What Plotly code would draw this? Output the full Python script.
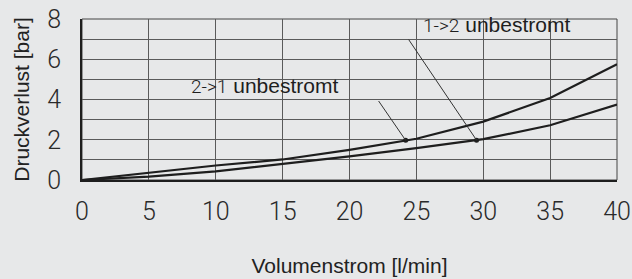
import plotly.graph_objects as go

# Data
flow = [0, 5, 10, 15, 20, 25, 30, 35, 40]                      # Volumenstrom [l/min]
loss_2_1 = [0, 0.36, 0.72, 1.02, 1.5, 2.05, 2.9, 4.07, 5.75]     # upper curve
loss_1_2 = [0, 0.17, 0.43, 0.8, 1.17, 1.58, 2.03, 2.72, 3.75]    # lower curve

x_ticks = [0, 5, 10, 15, 20, 25, 30, 35, 40]
y_ticks = [0, 2, 4, 6, 8]

# label marker points on the curves (x, y) and leader-line tail (x, y)
mark_2_1 = (24.2, 1.97)
tail_2_1 = (22.1, 4.0)
mark_1_2 = (29.5, 1.98)
tail_1_2 = (24.35, 7.05)

BG = "#e7e8e9"
INK = "#1e1e1e"
GRID = "#5a5a5a"
TICKFONT = dict(family="Roboto", size=25, color="#2a2a2a", weight=300)
THIN = "font-family:Roboto;font-weight:300;"

fig = go.Figure()
fig.add_trace(go.Scatter(x=flow, y=loss_2_1, mode="lines",
                         line=dict(color=INK, width=2.2), showlegend=False))
fig.add_trace(go.Scatter(x=flow, y=loss_1_2, mode="lines",
                         line=dict(color=INK, width=2.2), showlegend=False))
fig.add_trace(go.Scatter(x=[mark_2_1[0], mark_1_2[0]], y=[mark_2_1[1], mark_1_2[1]],
                         mode="markers", marker=dict(color=INK, size=5),
                         showlegend=False))

for (hx, hy), (tx, ty) in [(mark_2_1, tail_2_1), (mark_1_2, tail_1_2)]:
    fig.add_annotation(x=hx, y=hy, ax=tx, ay=ty, xref="x", yref="y",
                       axref="x", ayref="y", text="", showarrow=True,
                       arrowhead=0, arrowwidth=1, arrowcolor="#333",
                       standoff=0, startstandoff=0)

fig.add_annotation(x=8.0, y=4.0, xref="x", yref="y", xanchor="left", yanchor="bottom",
                   text=f"<span style='{THIN}font-size:19px'>2-&gt;1</span> unbestromt",
                   showarrow=False, font=dict(family="Liberation Sans", size=21, color="#1e1e1e"))
fig.add_annotation(x=25.35, y=7.0, xref="x", yref="y", xanchor="left", yanchor="bottom",
                   text=f"<span style='{THIN}font-size:19px'>1-&gt;2</span> unbestromt",
                   showarrow=False, font=dict(family="Liberation Sans", size=21, color="#1e1e1e"))

fig.update_layout(
    width=632, height=279,
    margin=dict(l=82, r=15, t=19, b=99),
    paper_bgcolor=BG, plot_bgcolor=BG,
    showlegend=False,
)
fig.update_xaxes(
    range=[0, 40], tickvals=x_ticks, ticktext=[str(v) for v in x_ticks],
    showgrid=True, gridcolor=GRID, gridwidth=1, automargin=False,
    zeroline=False, showline=True, linecolor=INK, linewidth=2, mirror=False,
    ticks="", tickfont=TICKFONT, ticklabelstandoff=8,
    title=dict(text="Volumenstrom [l/min]", standoff=33,
               font=dict(family="Liberation Sans", size=21, color="#222")),
)
fig.update_yaxes(
    range=[0, 8], tickvals=y_ticks, ticktext=[str(v) for v in y_ticks],
    showgrid=True, gridcolor=GRID, gridwidth=1, automargin=False,
    minor=dict(dtick=1, showgrid=True, gridcolor=GRID, gridwidth=1),
    zeroline=False, showline=True, linecolor=INK, linewidth=2, mirror=False,
    ticks="", tickfont=TICKFONT, ticklabelstandoff=14,
    title=dict(text="Druckverlust [bar]", standoff=12,
               font=dict(family="Liberation Sans", size=21, color="#222")),
)
# thin frame on top and right
fig.add_shape(type="rect", xref="paper", yref="paper", x0=0, y0=0, x1=1, y1=1,
              line=dict(color="#444", width=1), layer="below")

fig.write_html("out.html", config={"displayModeBar": False},
               post_script="document.body.style.margin='0';document.body.style.overflow='hidden';")
